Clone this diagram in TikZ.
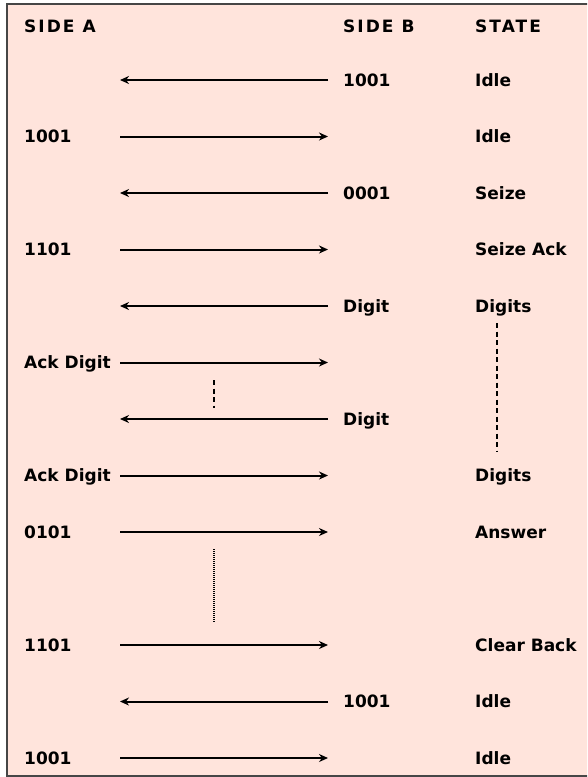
\documentclass[tikz,border=0pt]{standalone}
\usepackage{fontspec}
\setmainfont{DejaVu Sans}
\usetikzlibrary{arrows.meta,positioning}
\definecolor{sheet}{RGB}{255,228,220}
\definecolor{rim}{RGB}{70,70,70}
\newcommand{\rowfont}{\fontsize{17}{20}\selectfont\bfseries}
\newcommand{\headfont}{\fontsize{17}{20}\selectfont\bfseries\addfontfeatures{LetterSpace=12}}

\tikzset{
  lbl/.style={anchor=base west, inner sep=0pt, font=\rowfont},
  hdr/.style={anchor=base west, inner sep=0pt, font=\headfont},
  msg/.style={line width=2pt, -{Stealth[length=9pt,width=8pt]}},
  waitline/.style={line width=1.8pt, dash pattern=on 5pt off 3.5pt},
  pauseline/.style={line width=1.2pt, dash pattern=on 1pt off 1pt}
}

\begin{document}
\begin{tikzpicture}[x=1pt,y=-1pt]
\useasboundingbox (0,0) rectangle (587,777);
\clip (0,0) rectangle (587,777);
\fill[sheet] (7,3.5) rectangle (600,776);
\draw[rim,line width=2pt] (7,3.5) rectangle (600,776);

% column heads
\node[hdr] (hA) at (24,32) {SIDE A};
\node[hdr] (hB) at (343,32) {SIDE B};
\node[hdr] (hS) at (475,32) {STATE};

% side A labels
\node[lbl] (a2) at (24,142.5) {1001};
\node[lbl] (a4) at (24,255.5) {1101};
\node[lbl] (a6) at (24,368.5) {Ack Digit};
\node[lbl] (a8) at (24,481.5) {Ack Digit};
\node[lbl] (a9) at (24,538) {0101};
\node[lbl] (a10) at (24,651) {1101};
\node[lbl] (a12) at (24,764) {1001};

% side B labels
\node[lbl] (b1) at (343,86) {1001};
\node[lbl] (b3) at (343,199) {0001};
\node[lbl] (b5) at (343,312) {Digit};
\node[lbl] (b7) at (343,425) {Digit};
\node[lbl] (b11) at (343,707.5) {1001};

% states
\node[lbl] (s1) at (475,86) {Idle};
\node[lbl] (s2) at (475,142.5) {Idle};
\node[lbl] (s3) at (475,199) {Seize};
\node[lbl] (s4) at (475,255.5) {Seize Ack};
\node[lbl] (s5) at (475,312) {Digits};
\node[lbl] (s8) at (475,481.5) {Digits};
\node[lbl] (s9) at (475,538) {Answer};
\node[lbl] (s10) at (475,651) {Clear Back};
\node[lbl] (s11) at (475,707.5) {Idle};
\node[lbl] (s12) at (475,764) {Idle};

% arrow ends
\coordinate (l1) at (120,80);    \coordinate (r1) at (328,80);
\coordinate (l2) at (120,136.5); \coordinate (r2) at (328,136.5);
\coordinate (l3) at (120,193);   \coordinate (r3) at (328,193);
\coordinate (l4) at (120,249.5); \coordinate (r4) at (328,249.5);
\coordinate (l5) at (120,306);   \coordinate (r5) at (328,306);
\coordinate (l6) at (120,362.5); \coordinate (r6) at (328,362.5);
\coordinate (l7) at (120,419);   \coordinate (r7) at (328,419);
\coordinate (l8) at (120,475.5); \coordinate (r8) at (328,475.5);
\coordinate (l9) at (120,532);   \coordinate (r9) at (328,532);
\coordinate (l10) at (120,645);  \coordinate (r10) at (328,645);
\coordinate (l11) at (120,701.5);\coordinate (r11) at (328,701.5);
\coordinate (l12) at (120,758);  \coordinate (r12) at (328,758);

\draw[msg] (r1) -- (l1);
\draw[msg] (l2) -- (r2);
\draw[msg] (r3) -- (l3);
\draw[msg] (l4) -- (r4);
\draw[msg] (r5) -- (l5);
\draw[msg] (l6) -- (r6);
\draw[msg] (r7) -- (l7);
\draw[msg] (l8) -- (r8);
\draw[msg] (l9) -- (r9);
\draw[msg] (l10) -- (r10);
\draw[msg] (r11) -- (l11);
\draw[msg] (l12) -- (r12);

% gaps
\coordinate (g1) at (214,380); \coordinate (g2) at (214,408);
\coordinate (d1) at (497,323); \coordinate (d2) at (497,452);
\coordinate (p1) at (214,549); \coordinate (p2) at (214,623);
\draw[waitline] (g1) -- (g2);
\draw[waitline] (d1) -- (d2);
\draw[pauseline] (p1) -- (p2);
\end{tikzpicture}
\end{document}
